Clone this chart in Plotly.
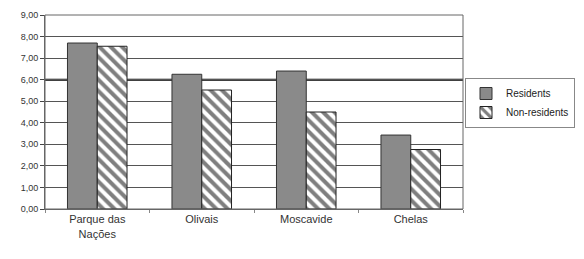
import plotly.graph_objects as go

categories = ["Parque das<br>Nações", "Olivais", "Moscavide", "Chelas"]
residents = [7.70, 6.25, 6.40, 3.43]
non_residents = [7.55, 5.52, 4.50, 2.76]
y_ticks = [0, 1, 2, 3, 4, 5, 6, 7, 8, 9]
y_tick_labels = ["0,00", "1,00", "2,00", "3,00", "4,00", "5,00", "6,00", "7,00", "8,00", "9,00"]

# page body has an 8px default margin; figure sized to fit inside the window
W, H = 576, 251
L, R, T, B = 37, 121, 7, 50

fig = go.Figure()
fig.add_trace(go.Bar(
    x=categories, y=residents, name="Residents",
    marker=dict(color="#8a8a8a", line=dict(color="#333333", width=1)),
))
fig.add_trace(go.Bar(
    x=categories, y=non_residents, name="Non-residents",
    marker=dict(color="white", line=dict(color="#222222", width=1),
                pattern=dict(shape="\\", fgcolor="black", bgcolor="white", size=8, solidity=0.5)),
))

fig.add_shape(type="line", xref="paper", x0=0, x1=1, yref="y", y0=6, y1=6,
              line=dict(color="black", width=2), layer="below")

fig.update_layout(
    width=W, height=H,
    margin=dict(l=L, r=R, t=T, b=B, autoexpand=False),
    barmode="group", bargap=0.43, bargroupgap=0,
    plot_bgcolor="white", paper_bgcolor="white",
    font=dict(family="Liberation Sans, Arial", size=11, color="#333333"),
    showlegend=True,
    legend=dict(x=(457 - L) / (W - L - R), y=(H - B - 95) / (H - T - B),
                xref="paper", yanchor="middle", xanchor="left",
                bordercolor="#888888", borderwidth=1, font=dict(size=10, color="#222222"),
                itemwidth=30, tracegroupgap=0),
    xaxis=dict(showline=True, linecolor="#666666", ticks="outside", ticklen=3,
               tickcolor="#888888", tickson="boundaries", showgrid=False,
               tickfont=dict(size=11, color="#333333")),
    yaxis=dict(range=[0, 9], tickvals=y_ticks, ticktext=y_tick_labels,
               showline=True, linecolor="#666666", ticks="outside", ticklen=4,
               tickcolor="#444444", showgrid=True, gridcolor="#555555", gridwidth=1,
               tickfont=dict(size=9, color="#333333"), zeroline=False),
)
fig.add_shape(type="rect", xref="paper", yref="paper", x0=0, x1=1, y0=0, y1=1,
              line=dict(color="#666666", width=1))

fig.write_html("out.html")
